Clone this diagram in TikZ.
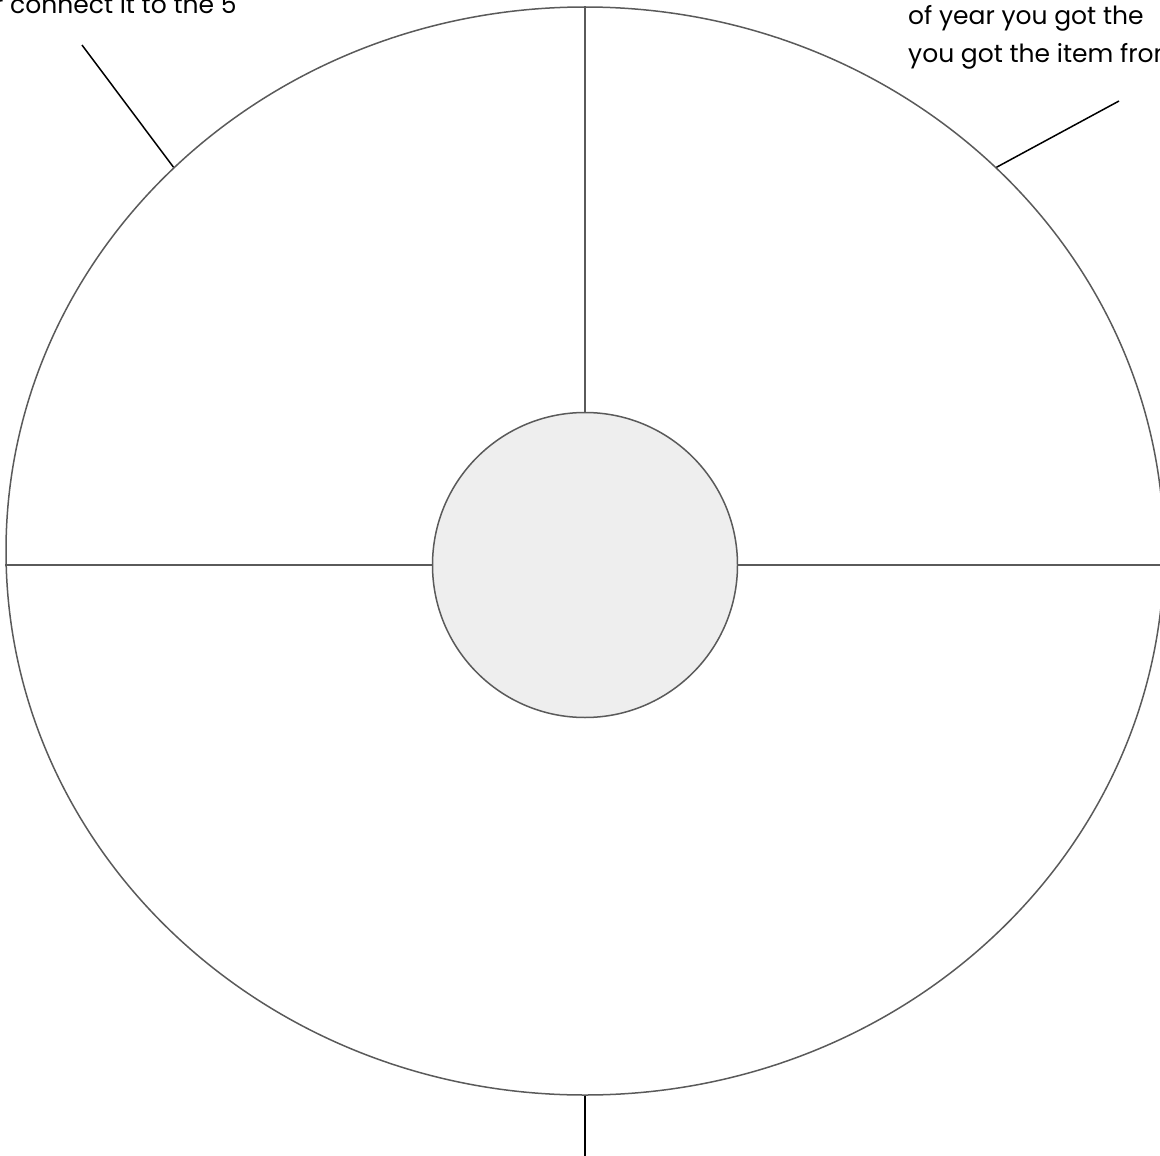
\documentclass[tikz,border=0pt]{standalone}
\usepackage{fontspec}
\setmainfont{Poppins}
\usetikzlibrary{shapes.geometric,calc}
\definecolor{rimgray}{HTML}{5A5A5A}
\definecolor{hubfill}{HTML}{EEEEEE}

\begin{document}
\begin{tikzpicture}[x=1pt, y=-1pt,
  every node/.style={font=\fontsize{25}{38}\selectfont},
  rim/.style={ellipse, draw=rimgray, line width=1.5pt, inner sep=0pt,
              minimum width=1158pt, minimum height=1088pt},
  hub/.style={circle, draw=rimgray, fill=hubfill, line width=1.5pt,
              inner sep=0pt, minimum size=305pt},
  spoke/.style={draw=rimgray, line width=1.5pt},
  pointer/.style={draw=black, line width=1.5pt},
  note/.style={inner sep=0pt, anchor=base west},
]
\clip (0,0) rectangle (1160,1156);
\node[rim] (wheel) at (585,551) {};
\node[hub] (hub) at (585,565) {};

% spokes
\draw[spoke] (wheel.north) -- (hub.north);
\draw[spoke] (wheel.west |- hub.west) -- (hub.west);
\draw[spoke] (hub.east) -- (wheel.east |- hub.east);

% notes and pointers
\node[note] (noteL) at (-6,14) {r connect it to the 5};
\node[note] (noteR1) at (908,25) {of year you got the};
\node[note] (noteR2) at (908,63) {you got the item from};

\coordinate (tipL) at (82,45);
\coordinate (tipR) at (1119,101);
\coordinate (tipB) at (585,1160);
\draw[pointer] (tipL) -- (wheel.137.2);
\draw[pointer] (tipR) -- (wheel.43.2);
\draw[pointer, line width=2pt] (wheel.south) -- (tipB);
\end{tikzpicture}
\end{document}
